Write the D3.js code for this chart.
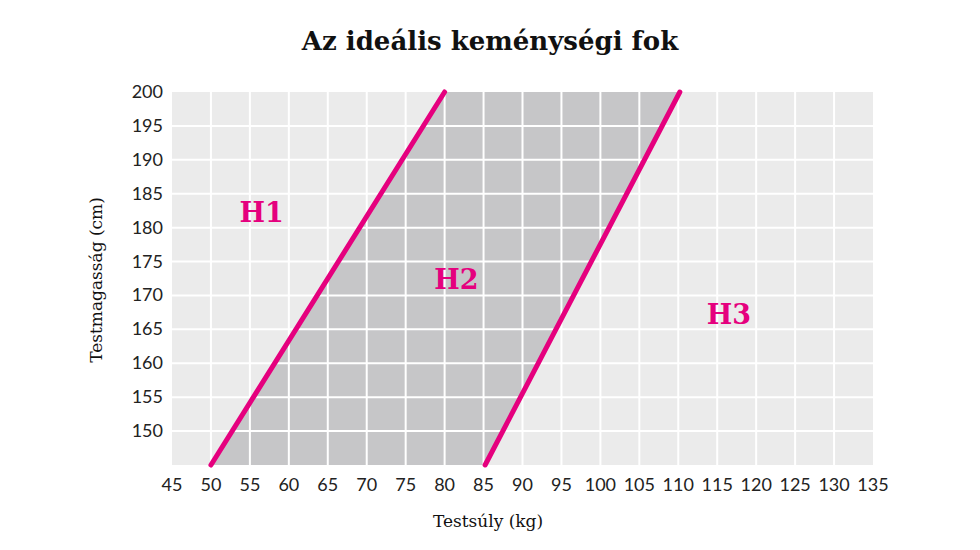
<!DOCTYPE html>
<html><head><meta charset="utf-8">
<script src="https://cdn.jsdelivr.net/npm/d3@7"></script>
<style>body{margin:0;background:#fff}text{font-family:"DejaVu Serif",serif}</style>
</head><body><div id="chart"></div>
<script>
var xTicks = d3.range(45, 136, 5);
var yTicks = d3.range(150, 201, 5);
// boundary lines: [weight, height] endpoints
var lineH1 = [[50, 145], [80, 200]];
var lineH2 = [[85.2, 145], [110.2, 200]];
var zones = [
  { name: "H1", x: 56.5, y: 182.3 },
  { name: "H2", x: 81.5, y: 172.5 },
  { name: "H3", x: 116.5, y: 167.3 }
];

var svg = d3.select("#chart").append("svg").attr("width", 980).attr("height", 550);

var x = d3.scaleLinear().domain([45, 135]).range([172, 873]);
var y = d3.scaleLinear().domain([145, 200]).range([465, 92]);

svg.append("rect").attr("x", x(45)).attr("y", y(200))
  .attr("width", x(135) - x(45)).attr("height", y(145) - y(200)).attr("fill", "#ebebeb");

// shaded H2 zone
var poly = [lineH1[0], lineH1[1], lineH2[1], lineH2[0]];
svg.append("polygon").attr("points", poly.map(p => x(p[0]) + "," + y(p[1])).join(" "))
  .attr("fill", "#c6c6c8");

svg.selectAll(".vg").data(xTicks.slice(1, -1)).enter().append("line")
  .attr("x1", d => x(d)).attr("x2", d => x(d)).attr("y1", y(200)).attr("y2", y(145))
  .attr("stroke", "#fff").attr("stroke-width", 2);
svg.selectAll(".hg").data(yTicks.slice(0, -1)).enter().append("line")
  .attr("y1", d => y(d)).attr("y2", d => y(d)).attr("x1", x(45)).attr("x2", x(135))
  .attr("stroke", "#fff").attr("stroke-width", 2);

[lineH1, lineH2].forEach(function (l) {
  svg.append("line")
    .attr("x1", x(l[0][0])).attr("y1", y(l[0][1]))
    .attr("x2", x(l[1][0])).attr("y2", y(l[1][1]))
    .attr("stroke", "#e5007e").attr("stroke-width", 5).attr("stroke-linecap", "round");
});

svg.selectAll(".xt").data(xTicks).enter().append("text")
  .attr("x", d => x(d)).attr("y", 491).attr("text-anchor", "middle")
  .style("font-family", "Lato, sans-serif").attr("font-size", 18).attr("fill", "#222").text(d => d);
svg.selectAll(".yt").data(yTicks).enter().append("text")
  .attr("x", 163).attr("y", d => y(d) + 6).attr("text-anchor", "end")
  .style("font-family", "Lato, sans-serif").attr("font-size", 18).attr("fill", "#222").text(d => d);

svg.selectAll(".zl").data(zones).enter().append("text")
  .attr("x", d => x(d.x)).attr("y", d => y(d.y) + 10).attr("text-anchor", "middle")
  .attr("font-size", 27).attr("font-weight", "bold").attr("fill", "#e5007e").text(d => d.name);

svg.append("text").attr("x", 490).attr("y", 50).attr("text-anchor", "middle")
  .attr("font-size", 26).attr("font-weight", "bold").attr("fill", "#111").text("Az ideális keménységi fok");
svg.append("text").attr("x", 488).attr("y", 527).attr("text-anchor", "middle")
  .attr("font-size", 17).attr("fill", "#111").text("Testsúly (kg)");
svg.append("text").attr("transform", "translate(102,280) rotate(-90)").attr("text-anchor", "middle")
  .attr("font-size", 17).attr("fill", "#111").text("Testmagasság (cm)");
</script></body></html>
